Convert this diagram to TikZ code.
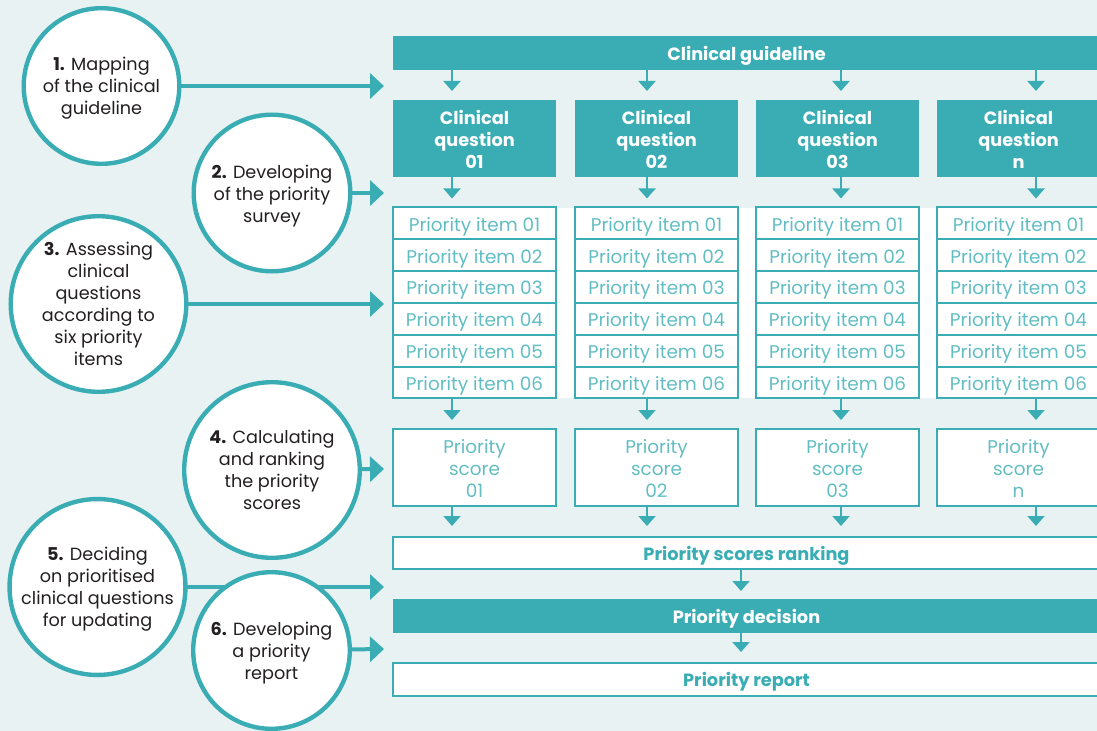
\documentclass[tikz,border=0pt]{standalone}
\usepackage{fontspec}
\setmainfont{Poppins}
\usetikzlibrary{arrows.meta}
\definecolor{bgtint}{HTML}{E8F2F3}
\definecolor{tealmain}{HTML}{3AADB4}
\definecolor{tealsoft}{HTML}{62BEC3}
\definecolor{ink}{HTML}{231F20}
% centred block of lines, lowered without changing its box size
\newcommand\lowtext[2][2.5bp]{\raisebox{-#1}[\height][\depth]{\begin{tabular}{@{}c@{}}#2\end{tabular}}}
\begin{document}
\begin{tikzpicture}[x=1bp,y=-1bp,
  every node/.style={inner sep=0pt,outer sep=0pt},
  txt/.style={font=\fontsize{17.7}{22}\selectfont},
  softtxt/.style={font=\fontsize{18.5}{22}\selectfont},
  boldtxt/.style={font=\bfseries\fontsize{17.8}{22}\selectfont},
  solidbar/.style={boldtxt,fill=tealmain,text=white,minimum width=707bp},
  openbar/.style={boldtxt,fill=white,draw=tealmain,line width=2bp,text=tealmain,minimum width=707bp},
  qbox/.style={boldtxt,fill=tealmain,text=white,minimum width=163bp,minimum height=77bp},
  itembox/.style={softtxt,fill=white,draw=tealmain,line width=2bp,text=tealsoft,minimum width=163bp,minimum height=31.8bp},
  scorebox/.style={softtxt,fill=white,draw=tealmain,line width=2bp,text=tealsoft,minimum width=163bp,minimum height=77bp},
  stepcircle/.style={txt,circle,fill=white,draw=tealmain,line width=4.4bp,text=ink},
  downarrow/.style={draw=tealmain,line width=2bp,-{Triangle[width=17bp,length=10bp]}},
  sidearrow/.style={draw=tealmain,line width=4bp,-{Triangle[width=25bp,length=14bp]}}
]
\useasboundingbox (0,0) rectangle (1097,731);
\clip (0,0) rectangle (1097,731);
\fill[bgtint] (0,0) rectangle (1097,731);

% white band behind the priority item tables
\fill[white] (393,207.5) rectangle (1101,398.3);

% full-width bars
\node[solidbar,minimum height=34bp] (gl) at (746.5,53) {\lowtext[3.5bp]{Clinical guideline}};
\node[openbar,minimum height=32bp] (rank) at (746.5,553) {\lowtext[3.5bp]{Priority scores ranking}};
\node[solidbar,minimum height=34bp] (dec) at (746.5,616) {\lowtext[3bp]{Priority decision}};
\node[openbar,minimum height=33bp] (rep) at (746.5,679.5) {\lowtext{Priority report}};

% arrow columns
\coordinate (ax1) at (452,0);
\coordinate (ax2) at (647,0);
\coordinate (ax3) at (841,0);
\coordinate (ax4) at (1036,0);
\coordinate (axr) at (741,0);

% one column per clinical question
\foreach \c/\x/\lab in {1/474.5/01,2/656.5/02,3/837.5/03,4/1018.5/n}{
  \node[qbox] (q\c) at (\x,138.5) {\lowtext[3.5bp]{Clinical\\question\\\lab}};
  \foreach \k in {1,...,6}{
    \node[itembox] (i\c-\k) at (\x,{223.4+(\k-1)*31.8}) {\lowtext[3.5bp]{Priority item 0\k}};
  }
  \node[scorebox] (s\c) at (\x,467.5) {\lowtext[4bp]{Priority\\score\\\lab}};
  \draw[downarrow,shorten >=9bp] (gl.south -| ax\c) -- (q\c.north -| ax\c);
  \draw[downarrow,shorten >=9bp] (q\c.south -| ax\c) -- (i\c-1.north -| ax\c);
  \draw[downarrow,shorten >=9bp] (i\c-6.south -| ax\c) -- (s\c.north -| ax\c);
  \draw[downarrow,shorten >=11bp] (s\c.south -| ax\c) -- (rank.north -| ax\c);
}
\draw[downarrow,shorten >=8bp] (rank.south -| axr) -- (dec.north -| axr);
\draw[downarrow,shorten >=11bp] (dec.south -| axr) -- (rep.north -| axr);

% arrow ends beside the flow
\coordinate (t1) at (384,86);
\coordinate (t2) at (384,193);
\coordinate (t3) at (384,304);
\coordinate (t4) at (384,469);
\coordinate (t5) at (384,587);
\coordinate (t6) at (384,649);

% step circles: arrows first so the circles sit on top
\coordinate (c1c) at (101.5,86);
\coordinate (c2c) at (272,193);
\coordinate (c3c) at (98.5,304);
\coordinate (c4c) at (272,470);
\coordinate (c5c) at (97.5,587);
\coordinate (c6c) at (271.5,650.5);
\draw[sidearrow] (c1c) -- (t1);
\draw[sidearrow] (c2c) -- (t2);
\draw[sidearrow] (c3c) -- (t3);
\draw[sidearrow] (c4c) -- (t4);
\draw[sidearrow] (c5c) -- (t5);
\draw[sidearrow] (c6c) -- (t6);

\node[stepcircle,minimum size=155.6bp] (c1) at (c1c) {\lowtext[2.5bp]{\textbf{1.} Mapping\\of the clinical\\guideline}};
\node[stepcircle,minimum size=156.6bp] (c2) at (c2c) {\lowtext[3.5bp]{\textbf{2.} Developing\\of the priority\\survey}};
\node[stepcircle,minimum size=175.6bp] (c3) at (c3c) {\lowtext[2bp]{\textbf{3.} Assessing\\clinical\\questions\\according to\\six priority\\items}};
\node[stepcircle,minimum size=175.6bp] (c4) at (c4c) {\lowtext[2bp]{\textbf{4.} Calculating\\and ranking\\the priority\\scores}};
\node[stepcircle,minimum size=169.6bp] (c5) at (c5c) {\lowtext[2bp]{\textbf{5.} Deciding\\on prioritised\\clinical questions\\for updating}};
\node[stepcircle,minimum size=156.6bp] (c6) at (c6c) {\lowtext[2.5bp]{\textbf{6.} Developing\\a priority\\report}};
\end{tikzpicture}
\end{document}
